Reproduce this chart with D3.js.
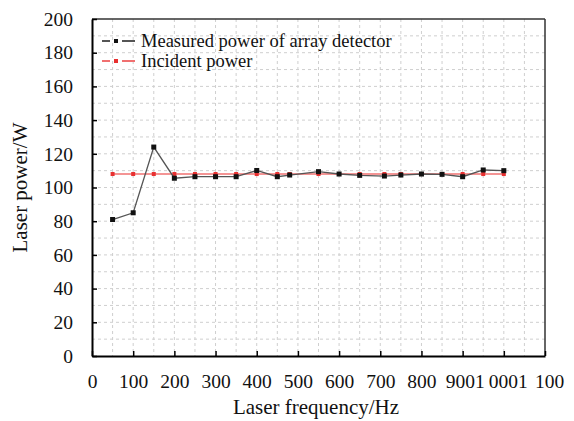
<!DOCTYPE html>
<html><head><meta charset="utf-8">
<script src="https://cdn.jsdelivr.net/npm/d3@7"></script>
<style>body{margin:0;background:#fff}svg{display:block}svg text{font-family:"Liberation Serif","Times New Roman",serif !important;fill:#111}</style>
</head><body>
<svg id="c" width="574" height="421"></svg>
<script>
const frequency = [50,100,150,200,250,300,350,400,450,480,550,600,650,710,750,800,850,900,950,1000];
const measured  = [81,85,124,105.5,106.4,106.4,106.4,110.1,106.4,107.4,109.4,108,107.2,106.8,107.4,108,107.8,106.4,110.4,110];
const incident  = [108,108,108,108,108,108,108,108,108,108,108,108,108,108,108,108,108,108,108,108];
const xTicks = [0,100,200,300,400,500,600,700,800,900,1000,1100];
const xTickLabels = ["0","100","200","300","400","500","600","700","800","9001","0001","100"];
const yTicks = [0,20,40,60,80,100,120,140,160,180,200];
const seriesNames = ["Measured power of array detector","Incident power"];

const FONT = '"Liberation Serif","Times New Roman",serif';
const FS = 19.5, FT = 21, FL = 18.5;
const svg = d3.select("#c");
const L=92,R=545,T=19,B=356;
const x = d3.scaleLinear().domain([0,1100]).range([L,R]);
const y = d3.scaleLinear().domain([0,200]).range([B,T]);

// grid
const g = svg.append("g");
g.selectAll(".gv").data(d3.range(50,1100,50)).enter().append("line")
 .attr("x1",d=>x(d)).attr("x2",d=>x(d)).attr("y1",T).attr("y2",B)
 .attr("stroke","#cfcfcf").attr("stroke-width",1).attr("stroke-dasharray","3,3");
g.selectAll(".gh").data(d3.range(10,200,10)).enter().append("line")
 .attr("x1",L).attr("x2",R).attr("y1",d=>y(d)).attr("y2",d=>y(d))
 .attr("stroke","#cfcfcf").attr("stroke-width",1).attr("stroke-dasharray","3,3");

// frame top/right
svg.append("line").attr("x1",L).attr("x2",R).attr("y1",T).attr("y2",T).attr("stroke","#333").attr("stroke-width",1.5);
svg.append("line").attr("x1",R).attr("x2",R).attr("y1",T).attr("y2",B).attr("stroke","#333").attr("stroke-width",1.5);

// axes
const xAxis = d3.axisBottom(x).tickValues(xTicks).tickSizeInner(-5).tickSizeOuter(0)
  .tickFormat((d,i)=>xTickLabels[i]).tickPadding(18);
const gx = svg.append("g").attr("transform",`translate(0,${B})`).call(xAxis)
  .attr("font-family",FONT).attr("font-size",FS);
gx.select(".domain").attr("stroke","#000").attr("stroke-width",2);
gx.selectAll(".tick line").attr("stroke","#000").attr("stroke-width",1.5);
const xdx = [0,0,0,0,0,0,0,0,0,2,4,4];
gx.selectAll(".tick text").attr("fill","#111").attr("dx",(d,i)=>xdx[i]);

const yAxis = d3.axisLeft(y).tickValues(yTicks).tickSizeInner(-5).tickSizeOuter(0).tickPadding(19);
const gy = svg.append("g").attr("transform",`translate(${L},0)`).call(yAxis)
  .attr("font-family",FONT).attr("font-size",FS);
gy.select(".domain").attr("stroke","#000").attr("stroke-width",2);
gy.selectAll(".tick line").attr("stroke","#000").attr("stroke-width",1.5);
gy.selectAll(".tick text").attr("fill","#111");

// titles
svg.append("text").attr("x",316).attr("y",414).attr("text-anchor","middle").attr("font-size",FT).text("Laser frequency/Hz");
svg.append("text").attr("transform",`translate(27,${(T+B)/2}) rotate(-90)`).attr("text-anchor","middle").attr("font-size",FT).text("Laser power/W");

// series
const line = d3.line().x(d=>x(d[0])).y(d=>y(d[1]));
const inc = frequency.map((f,i)=>[f,incident[i]]);
const mea = frequency.map((f,i)=>[f,measured[i]]);
svg.append("path").datum(inc).attr("d",line).attr("fill","none").attr("stroke","#f07070").attr("stroke-width",1.5);
svg.selectAll(".mi").data(inc).enter().append("rect")
 .attr("x",d=>x(d[0])-2).attr("y",d=>y(d[1])-2).attr("width",4).attr("height",4).attr("fill","#e83030");
svg.append("path").datum(mea).attr("d",line).attr("fill","none").attr("stroke","#555").attr("stroke-width",1.3);
svg.selectAll(".mm").data(mea).enter().append("rect")
 .attr("x",d=>x(d[0])-2.5).attr("y",d=>y(d[1])-2.5).attr("width",5).attr("height",5).attr("fill","#111");

// legend
const leg = [{name:seriesNames[0],line:"#555",mark:"#111",y:41},{name:seriesNames[1],line:"#f07070",mark:"#e83030",y:61}];
leg.forEach(l=>{
  svg.append("line").attr("x1",102).attr("x2",110).attr("y1",l.y).attr("y2",l.y).attr("stroke",l.line).attr("stroke-width",2);
  svg.append("line").attr("x1",122).attr("x2",135).attr("y1",l.y).attr("y2",l.y).attr("stroke",l.line).attr("stroke-width",2);
  svg.append("rect").attr("x",114).attr("y",l.y-2).attr("width",4).attr("height",4).attr("fill",l.mark);
  svg.append("text").attr("x",141).attr("y",l.y+6).attr("font-size",FL).text(l.name);
});
</script>
</body></html>
